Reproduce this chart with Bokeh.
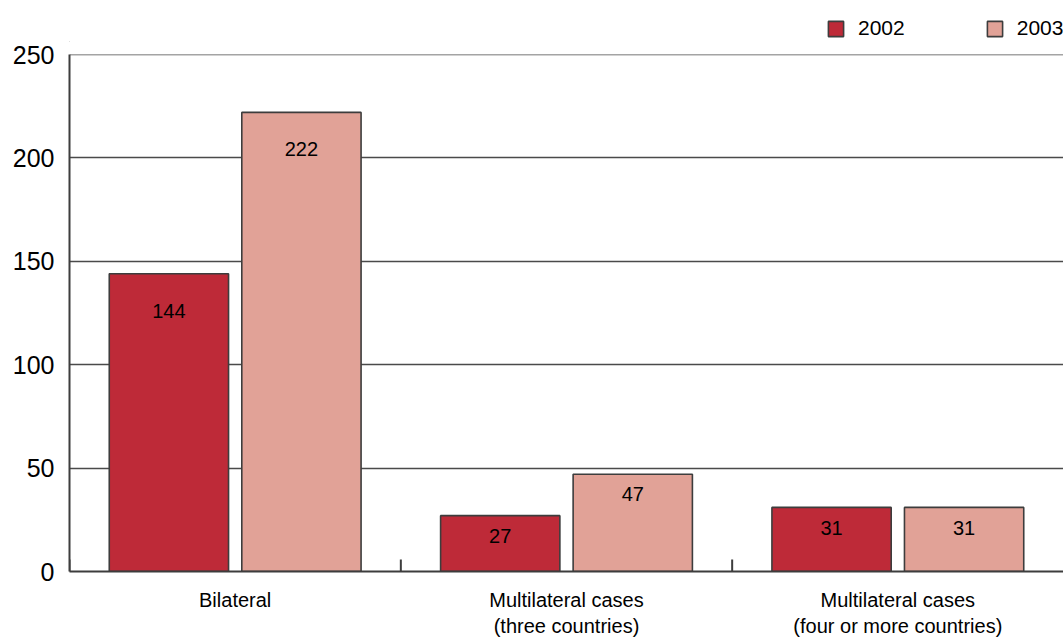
import math
from bokeh.plotting import figure
from bokeh.layouts import column
from bokeh.models import (ColumnDataSource, FactorRange, Range1d, FixedTicker,
                          Legend, LegendItem, Span)
from bokeh.transform import dodge
from bokeh.core.properties import value
from bokeh.embed import file_html
from bokeh.resources import INLINE

# ---- data ----
categories = ["Bilateral", "Multilateral cases\n(three countries)",
              "Multilateral cases\n(four or more countries)"]
series_2002 = [144, 27, 31]
series_2003 = [222, 47, 31]
series_names = ["2002", "2003"]
y_ticks = [0, 50, 100, 150, 200, 250]

# ---- style ----
FONT = "Liberation Sans"
C2002 = "#BE2A38"
C2003 = "#E1A297"
EDGE = "#3d3d3d"
GRID = "#4a4a4a"
label_offsets = [37, 20, 21]  # px below bar top for value labels, per category

src = ColumnDataSource(dict(
    cat=categories,
    v2002=series_2002,
    v2003=series_2003,
    t2002=[str(v) for v in series_2002],
    t2003=[str(v) for v in series_2003],
    off=label_offsets,
))

p = figure(frame_width=994, frame_height=517, output_backend="svg",
           toolbar_location=None,
           x_range=FactorRange(factors=categories, start=0, end=2.976),
           y_range=Range1d(0, 250),
           min_border_left=69, min_border_top=12, min_border_right=0,
           min_border_bottom=0)
p.outline_line_color = None
p.background_fill_color = "white"
p.border_fill_color = "white"

r1 = p.vbar(x=dodge("cat", -0.2, range=p.x_range), top="v2002", width=0.36,
            source=src, fill_color=C2002, line_color=EDGE, line_width=1.6)
r2 = p.vbar(x=dodge("cat", 0.2, range=p.x_range), top="v2003", width=0.36,
            source=src, fill_color=C2003, line_color=EDGE, line_width=1.6)

for xo, col in [(-0.2, "2002"), (0.2, "2003")]:
    p.text(x=dodge("cat", xo, range=p.x_range), y="v" + col, text="t" + col,
           y_offset="off", source=src, text_font=value(FONT),
           text_font_size="20px", text_align="center", text_baseline="middle",
           text_color="black")

# category boundary ticks (pointing up from baseline)
p.ray(x=dodge("cat", -0.5, range=p.x_range), y=0, length=12,
      length_units="screen", angle=math.pi / 2, source=src,
      line_color=EDGE, line_width=2)

# axes
p.xaxis.major_tick_line_color = None
p.xaxis.minor_tick_line_color = None
p.xaxis.major_tick_out = 0
p.xaxis.major_tick_in = 0
p.xaxis.axis_line_color = EDGE
p.xaxis.axis_line_width = 2
p.xaxis.major_label_text_font = FONT
p.xaxis.major_label_text_font_size = "20px"
p.xaxis.major_label_text_color = "black"
p.xaxis.major_label_standoff = 17

p.yaxis.ticker = FixedTicker(ticks=y_ticks)
p.yaxis.major_tick_line_color = None
p.yaxis.minor_tick_line_color = None
p.yaxis.major_tick_out = 0
p.yaxis.major_tick_in = 0
p.yaxis.axis_line_color = EDGE
p.yaxis.axis_line_width = 2
p.yaxis.major_label_text_font = FONT
p.yaxis.major_label_text_font_size = "25px"
p.yaxis.major_label_text_color = "black"
p.yaxis.major_label_standoff = 15

p.xgrid.grid_line_color = None
p.ygrid.ticker = FixedTicker(ticks=y_ticks)
p.ygrid.grid_line_color = GRID
p.ygrid.grid_line_width = 1.5
p.add_layout(Span(location=y_ticks[-1], dimension="width",
                  line_color=GRID, line_width=1.5))

# ---- legend strip above the chart ----
top = figure(width=1063, height=42, output_backend="svg", toolbar_location=None,
             x_range=Range1d(0, 1), y_range=Range1d(0, 1),
             min_border=0, min_border_left=69)
top.axis.visible = False
top.grid.grid_line_color = None
top.outline_line_color = None
top.background_fill_color = "white"
top.border_fill_color = "white"
# off-screen proxy renderers, used only to draw the legend swatches
lr1 = top.vbar(x=[-5], top=[-5], width=0.1, fill_color=C2002,
               line_color=EDGE, line_width=1.6)
lr2 = top.vbar(x=[-5], top=[-5], width=0.1, fill_color=C2003,
               line_color=EDGE, line_width=1.6)
legend = Legend(items=[LegendItem(label=series_names[0], renderers=[lr1]),
                       LegendItem(label=series_names[1], renderers=[lr2])],
                orientation="horizontal", location=(757, 2),
                glyph_width=19, glyph_height=19, label_standoff=13,
                spacing=80, padding=0, margin=0,
                border_line_color=None, background_fill_alpha=0,
                label_text_font=FONT, label_text_font_size="21px",
                label_text_color="black")
top.add_layout(legend, "center")

layout = column(top, p, spacing=0)
open("out.html", "w").write(file_html(layout, INLINE))
